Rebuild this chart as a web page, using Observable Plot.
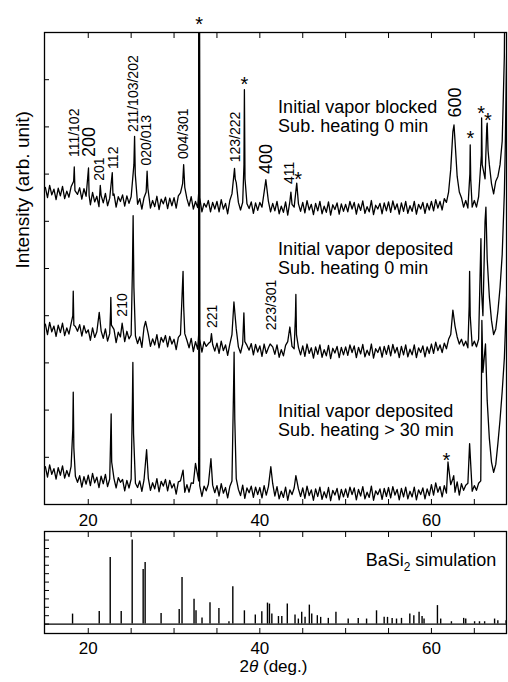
<!DOCTYPE html>
<html><head><meta charset="utf-8">
<script src="https://cdn.jsdelivr.net/npm/d3@7"></script>
<script src="https://cdn.jsdelivr.net/npm/@observablehq/plot@0.6"></script>
<style>
html,body{margin:0;padding:0;background:#fff;}
#chart{width:508px;height:682px;position:relative;overflow:hidden;}
#chart svg{display:block;}
</style></head><body><div id="chart"></div>
<script>
// ---------- data ----------
const gridStart = 15, gridStep = 0.25;   // sampling of the noisy baselines (15.00 ... 68.50)

const trace1Grid = [
6.72,6.50,6.76,6.56,6.68,6.46,6.70,6.54,6.74,6.48,6.64,6.51,6.73,6.60,6.60,6.57,6.71,6.47,6.69,6.53,
6.57,6.35,6.61,6.41,6.53,6.31,6.55,6.39,6.59,6.33,6.49,6.36,6.58,6.30,6.52,6.42,6.56,6.32,6.54,6.38,
6.52,6.55,6.50,6.36,6.48,6.26,6.50,6.62,6.55,6.28,6.44,6.31,6.53,6.25,6.47,6.37,6.51,6.27,6.49,6.33,
6.50,6.28,6.54,6.60,6.80,6.72,6.48,6.32,6.52,6.26,6.42,6.29,6.50,6.20,6.38,6.30,6.44,6.20,6.40,6.26,
6.42,6.20,6.46,6.26,6.38,6.16,6.44,6.58,7.00,6.82,6.40,6.24,6.40,6.40,6.37,6.27,6.41,6.17,6.39,6.23,
6.40,6.30,6.62,6.75,6.42,6.20,6.38,6.22,6.42,6.16,6.32,6.19,6.41,6.13,6.42,6.36,6.30,6.50,6.37,6.21,
6.40,6.18,6.44,6.24,6.36,6.14,6.38,6.22,6.42,6.16,6.32,6.19,6.41,6.13,6.35,6.25,6.39,6.15,6.37,6.21,
6.36,6.20,6.42,6.26,6.40,6.15,6.37,6.23,6.43,6.17,6.31,6.20,6.44,6.14,6.34,6.26,6.38,6.16,6.39,6.22,
6.41,6.19,6.43,6.25,6.37,6.15,6.39,6.21,6.42,6.17,6.33,6.21,6.42,6.15,6.36,6.26,6.40,6.17,6.38,6.24,
6.42,6.22,6.46,6.28,6.42,6.24,6.48,6.40,6.62,7.10,7.90,7.70,6.95,6.62,6.50,6.30,6.44,6.28,6.50,6.30,
6.44,6.30,6.52,6.60,6.70,6.90,7.60,7.20,6.80,6.58,6.85,6.95,7.20,7.70,9.50
];
const trace1Peaks = [
[18.30,6.85],[18.37,7.15],[18.45,6.65],[20.03,7.13],[20.10,6.55],[21.40,6.76],
[22.80,7.03],[22.88,6.55],[25.32,7.20],[25.40,7.80],[25.48,7.00],[26.86,7.06],[26.95,6.70],
[31.12,7.20],[32.87,6.60],[32.91,12],[32.95,12],[32.99,6.50],[37.05,7.12],[37.13,6.90],
[38.15,7.20],[38.20,8.79],[38.27,6.90],[40.70,6.88],[43.62,6.62],[44.30,6.81],
[62.63,8.04],[64.48,7.00],[64.52,7.62],[64.58,6.90],[65.82,7.40],[65.85,8.19],[65.92,7.20],
[66.45,8.00],[66.50,8.08],[66.60,7.50],[68.60,12],[68.80,14]
];

const trace2Grid = [
3.82,3.60,3.86,3.66,3.78,3.56,3.80,3.64,3.84,3.58,3.74,3.61,3.83,3.85,3.77,3.67,3.81,3.57,3.79,3.63,
3.70,3.48,3.74,3.54,3.66,3.75,3.68,3.52,3.72,3.46,3.62,3.55,3.71,3.43,3.65,3.55,3.60,3.45,3.67,3.51,
3.59,4.20,3.57,3.41,3.55,3.33,3.75,3.82,3.61,3.35,3.51,3.38,3.60,3.32,3.54,3.44,3.58,3.34,3.56,3.40,
3.50,3.28,3.54,3.60,4.30,3.62,3.48,3.32,3.52,3.24,3.45,3.29,3.42,3.23,3.45,3.35,3.41,3.45,3.39,3.25,
3.42,3.20,3.46,3.26,3.38,3.16,3.40,3.60,4.10,3.72,3.34,3.21,3.40,3.45,3.37,3.27,3.41,3.17,3.39,3.23,
3.36,3.14,3.40,3.20,3.32,3.38,3.34,3.18,3.38,3.12,3.28,3.15,3.37,3.45,3.70,3.35,3.30,3.60,3.33,3.17,
3.36,3.14,3.40,3.20,3.32,3.10,3.34,3.18,3.38,3.12,3.28,3.15,3.37,3.09,3.31,3.21,3.35,3.11,3.33,3.17,
3.34,3.16,3.38,3.22,3.36,3.11,3.33,3.19,3.39,3.13,3.27,3.16,3.40,3.10,3.30,3.22,3.34,3.12,3.35,3.18,
3.37,3.15,3.39,3.21,3.33,3.11,3.35,3.17,3.38,3.13,3.29,3.17,3.38,3.11,3.32,3.22,3.36,3.13,3.34,3.20,
3.40,3.20,3.44,3.26,3.38,3.22,3.42,3.30,3.50,3.60,4.00,3.78,3.55,3.40,3.50,3.36,3.46,3.32,3.60,3.36,
3.46,3.34,3.50,3.90,4.00,6.00,5.20,4.40,3.90,3.60,3.72,4.10,4.60,5.30,6.60
];
const trace2Peaks = [
[18.20,4.00],[18.25,4.52],[18.32,3.80],[21.28,4.07],[22.60,4.10],[22.63,4.39],[22.70,3.80],
[23.95,3.84],[25.15,5.00],[25.23,6.12],[25.32,4.60],[26.68,3.88],[31.05,4.94],[31.12,4.20],
[32.87,3.60],[32.91,12],[32.95,12],[32.99,3.50],[34.36,3.62],[36.98,4.29],[38.14,4.06],[41.20,3.40],
[43.50,3.76],[44.15,4.00],[44.20,4.45],[44.27,3.60],[62.50,4.12],[64.40,4.20],[64.45,4.94],
[64.52,4.00],[65.77,5.63],[65.85,4.50],[66.35,6.30],[68.60,7.50],[68.80,10]
];

const trace3Grid = [
0.80,0.58,0.84,0.64,0.76,0.54,0.78,0.62,0.82,0.56,0.72,0.59,0.81,0.90,0.60,0.47,0.61,0.37,0.59,0.43,
0.62,0.40,0.66,0.46,0.58,0.36,0.60,0.44,0.64,0.38,0.54,0.60,0.55,0.35,0.57,0.47,0.53,0.29,0.51,0.35,
0.54,0.70,0.45,0.36,0.50,0.28,0.52,0.60,0.56,0.30,0.46,0.33,0.55,0.27,0.49,0.39,0.53,0.29,0.51,0.35,
0.44,0.22,0.48,0.50,0.60,0.26,0.42,0.26,0.46,0.45,0.80,0.62,0.41,0.17,0.39,0.29,0.43,0.45,0.41,0.25,
0.40,0.18,0.44,0.24,0.36,0.14,0.38,0.50,1.50,0.55,0.32,0.19,0.41,0.13,0.35,0.25,0.39,0.15,0.37,0.21,
0.36,0.14,0.40,0.20,0.38,0.70,0.44,0.18,0.38,0.12,0.28,0.15,0.37,0.09,0.31,0.21,0.35,0.50,0.33,0.17,
0.35,0.13,0.39,0.19,0.31,0.09,0.33,0.17,0.37,0.11,0.27,0.14,0.36,0.08,0.30,0.20,0.34,0.10,0.32,0.16,
0.33,0.15,0.37,0.21,0.35,0.10,0.32,0.18,0.38,0.12,0.26,0.15,0.39,0.09,0.29,0.21,0.33,0.11,0.34,0.17,
0.36,0.14,0.38,0.20,0.32,0.10,0.34,0.16,0.37,0.12,0.28,0.16,0.37,0.10,0.31,0.21,0.35,0.12,0.33,0.19,
0.42,0.20,0.46,0.26,0.38,0.16,0.40,0.24,0.45,0.42,0.55,0.26,0.48,0.20,0.44,0.30,0.41,0.45,0.60,0.28,
0.40,0.30,0.45,0.50,2.80,3.00,2.20,1.40,0.90,0.68,0.85,1.30,1.80,2.40,3.10
];
const trace3Peaks = [
[18.20,1.60],[18.25,2.38],[18.32,1.20],[22.62,1.50],[22.67,1.92],[22.73,0.90],
[25.15,2.20],[25.20,3.01],[25.28,1.50],[26.80,1.16],[31.05,0.73],[32.50,0.87],
[32.87,0.50],[32.91,12],[32.95,12],[32.99,0.40],[34.30,0.97],[36.95,2.60],[37.00,3.23],[37.08,1.80],
[41.28,0.80],[44.20,0.61],[61.93,0.90],[62.60,0.61],[64.45,1.29],[65.88,3.90],[66.30,3.40],
[68.60,3.60],[68.80,4.60]
];

// BaSi2 simulated pattern
const simPos = [18.17,21.28,22.56,23.84,25.12,26.40,26.63,28.49,30.60,30.93,32.33,32.56,33.26,34.19,35.23,36.40,36.85,38.20,39.47,40.23,40.89,41.12,41.40,42.17,42.56,43.20,44.10,44.49,44.88,45.27,45.77,46.05,46.70,47.09,47.98,48.87,50.30,51.47,52.44,53.60,54.49,54.88,55.42,55.93,56.51,57.48,57.95,58.56,58.91,59.14,60.70,61.08,62.33,63.76,64.00,65.03,65.60,66.20,67.36,67.74,68.70];
const simInt = [1.19,1.50,7.93,1.50,10.0,6.50,7.33,1.26,1.74,5.55,2.97,1.58,0.71,2.54,1.86,0.27,4.44,1.58,1.07,1.46,2.50,2.38,1.20,0.90,0.90,2.38,1.07,0.60,1.40,0.80,2.26,1.20,1.00,0.80,0.68,1.40,0.60,0.68,0.60,1.58,0.80,0.80,0.68,0.60,0.68,1.20,1.00,1.40,0.90,0.60,2.20,0.60,0.28,0.68,0.60,0.28,0.28,0.28,0.60,0.40,0.40];

// axis ticks
const xTickVals = [20,25,30,35,40,45,50,55,60,65];
const xLabelVals = [20,40,60];
const yTickVals = [0,1,2,3,4,5,6,7,8,9,10];

// annotations
const peakLabelText = ["111/102","200","201","112","211/103/202","020/013","004/301","123/222","400","411","600","210","221","223/301"];
const peakLabelX    = [18.40,20.07,21.35,22.98,25.30,26.78,31.12,37.13,40.77,43.49,62.79,24.02,34.49,41.35];
const peakLabelY    = [7.36,7.36,6.86,7.11,7.89,7.18,7.32,7.25,7.00,6.79,8.20,3.98,3.74,3.69];
const peakLabelSize = [14,18,14,14,14,14,14,14,18,14,18,14,14,14];

const starX = [32.93,38.20,44.45,64.53,65.80,66.58,61.74];
const starY = [10.28,9.01,7.00,7.85,8.38,8.23,1.04];

const curveLabelText = ["Initial vapor blocked\nSub. heating 0 min","Initial vapor deposited\nSub. heating 0 min","Initial vapor deposited\nSub. heating > 30 min"];
const curveLabelX = [42.13,42.13,42.13];
const curveLabelY = [8.22,5.22,1.78];

const simLabel = {x: 52.33, y: 7.63, text: "BaSi2 simulation"};
const yTitle = "Intensity (arb. unit)";
const xTitle = "2θ (deg.)";

// ---------- build ----------
function buildTrace(grid, peaks) {
  const pts = grid.map((y, i) => ({x: gridStart + i * gridStep, y}));
  const kept = pts.filter(p => !peaks.some(q => Math.abs(q[0] - p.x) < 0.09));
  return kept.concat(peaks.map(([x, y]) => ({x, y}))).sort((a, b) => a.x - b.x);
}
const t1 = buildTrace(trace1Grid, trace1Peaks);
const t2 = buildTrace(trace2Grid, trace2Peaks);
const t3 = buildTrace(trace3Grid, trace3Peaks);
const sim = simPos.map((x, i) => ({x, h: simInt[i]}));
const peakLabels = peakLabelText.map((t, i) => ({t, x: peakLabelX[i], y: peakLabelY[i], s: peakLabelSize[i]}));
const stars = starX.map((x, i) => ({x, y: starY[i]}));
const curveLabels = curveLabelText.map((t, i) => ({t, x: curveLabelX[i], y: curveLabelY[i]}));

const FONT = '"Liberation Sans", Arial, Helvetica, sans-serif';
const xDomain = [14.9, 68.75];
const style = {fontFamily: FONT, fontSize: "17px", color: "black", background: "white", overflow: "visible"};
const noText = {fill: "none", tickFormat: () => "", label: null};

const topPlot = Plot.plot({
  width: 508, height: 527,
  marginLeft: 44, marginRight: 2, marginTop: 32, marginBottom: 23,
  x: {domain: xDomain}, y: {domain: [0, 10]},
  style,
  marks: [
    Plot.line(t1, {x: "x", y: "y", stroke: "black", strokeWidth: 1.3, clip: true}),
    Plot.line(t2, {x: "x", y: "y", stroke: "black", strokeWidth: 1.3, clip: true}),
    Plot.line(t3, {x: "x", y: "y", stroke: "black", strokeWidth: 1.3, clip: true}),
    Plot.frame({stroke: "black", strokeWidth: 1.3}),
    Plot.axisX(xTickVals, {anchor: "bottom", tickSize: 5, dy: -5, ...noText}),
    Plot.axisX(xTickVals, {anchor: "top", tickSize: 5, dy: 5, ...noText}),
    Plot.axisX(xLabelVals, {anchor: "bottom", tickSize: 0, tickPadding: 9, fontSize: 17, label: null}),
    Plot.axisY(yTickVals, {anchor: "left", tickSize: 5, dx: 5, ...noText}),
    Plot.text(peakLabels, {x: "x", y: "y", text: "t", rotate: -90, textAnchor: "start", fontSize: "s", fill: "black"}),
    Plot.text(stars, {x: "x", y: "y", text: () => "*", fontSize: 20, dy: 5, fill: "black"}),
    Plot.text(curveLabels, {x: "x", y: "y", text: "t", textAnchor: "start", lineHeight: 1.05, fontSize: 18, fill: "black"}),
    Plot.text([yTitle], {frameAnchor: "left", dx: -22, rotate: -90, fontSize: 19, fill: "black"})
  ]
});

const bottomPlot = Plot.plot({
  width: 508, height: 155,
  marginLeft: 44, marginRight: 2, marginTop: 4, marginBottom: 49,
  x: {domain: xDomain}, y: {domain: [-1.12, 11.02]},
  style,
  marks: [
    Plot.ruleY([0], {stroke: "black", strokeWidth: 1.3}),
    Plot.ruleX(sim, {x: "x", y1: 0, y2: "h", stroke: "black", strokeWidth: 1.4}),
    Plot.frame({stroke: "black", strokeWidth: 1.3}),
    Plot.axisX(xTickVals, {anchor: "bottom", tickSize: 5, dy: -5, ...noText}),
    Plot.axisX(xTickVals, {anchor: "top", tickSize: 5, dy: 5, ...noText}),
    Plot.axisX(xLabelVals, {anchor: "bottom", tickSize: 0, tickPadding: 8, fontSize: 17, label: null}),
    Plot.axisY(yTickVals, {anchor: "left", tickSize: 5, dx: 5, ...noText}),
    Plot.text([simLabel], {x: "x", y: "y", text: "text", textAnchor: "start", fontSize: 18, fill: "black"}),
    Plot.text([xTitle], {frameAnchor: "bottom", dy: 38.6, dx: -2, fontSize: 17, fill: "black"})
  ]
});

const chart = document.getElementById("chart");
chart.appendChild(topPlot);
chart.appendChild(bottomPlot);

// rich text: subscript and italic theta
d3.select(bottomPlot).selectAll("text").each(function () {
  const el = d3.select(this);
  if (this.textContent === simLabel.text) {
    el.text(null);
    el.append("tspan").text("BaSi");
    el.append("tspan").attr("dy", 5).attr("font-size", 12).text("2");
    el.append("tspan").attr("dy", -5).text(" simulation");
  } else if (this.textContent === xTitle) {
    el.text(null);
    el.append("tspan").text("2");
    el.append("tspan").attr("font-style", "italic").text("θ");
    el.append("tspan").text(" (deg.)");
  }
});
</script>
</body></html>
